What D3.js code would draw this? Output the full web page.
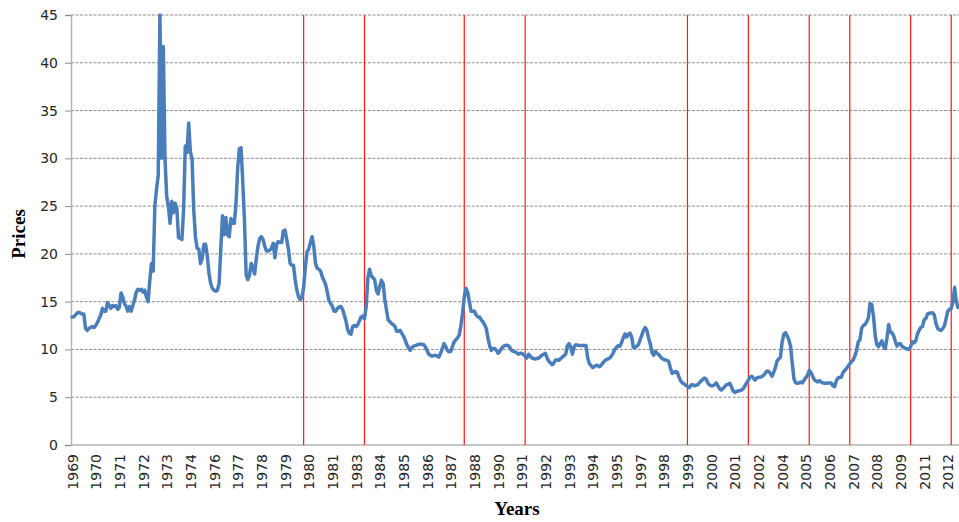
<!DOCTYPE html>
<html>
<head>
<meta charset="utf-8">
<script src="https://cdn.jsdelivr.net/npm/d3@7"></script>
<style>
  body { margin: 0; background: #fff; }
  svg { display: block; }
</style>
</head>
<body>
<svg id="chart" width="959" height="522"></svg>
<script>

// monthly prices, Jan 1969 onwards (one row per year)
var prices = [
	13.4, 13.4, 13.6, 13.8, 13.9, 13.8, 13.7, 13.7, 12.2, 12.0, 12.2, 12.3,
	12.4, 12.3, 12.5, 12.8, 13.2, 13.6, 14.3, 14.0, 14.0, 14.9, 14.6, 14.3,
	14.6, 14.5, 14.6, 14.2, 14.4, 15.9, 15.5, 14.8, 14.5, 14.0, 14.5, 14.0,
	14.6, 15.2, 16.0, 16.3, 16.2, 16.3, 16.0, 16.2, 15.5, 15.0, 17.2, 19.0,
	18.2, 25.0, 26.8, 28.2, 45.0, 30.0, 41.7, 30.0, 26.0, 25.0, 23.2, 25.5,
	24.3, 25.3, 24.8, 21.7, 21.6, 21.5, 24.6, 31.3, 30.6, 33.7, 30.7, 29.9,
	24.6, 21.8, 20.6, 20.5, 19.0, 19.5, 21.0, 21.0, 19.8, 18.0, 16.9, 16.4,
	16.2, 16.1, 16.2, 16.9, 20.5, 24.0, 22.0, 23.8, 22.0, 21.8, 23.7, 23.2,
	23.2, 25.3, 29.0, 31.0, 31.1, 27.5, 23.5, 17.8, 17.3, 17.8, 19.0, 18.5,
	17.9, 19.5, 20.8, 21.6, 21.8, 21.5, 20.8, 20.3, 20.3, 20.4, 20.6, 21.1,
	19.6, 21.0, 21.3, 21.2, 21.2, 22.4, 22.5, 21.5, 20.5, 19.0, 18.8, 18.8,
	17.3, 16.2, 15.5, 15.2, 15.5, 16.5, 18.6, 20.2, 20.5, 21.2, 21.8, 20.8,
	19.0, 18.5, 18.4, 18.2, 17.6, 17.2, 16.8, 16.0, 15.1, 14.8, 14.5, 14.0,
	14.0, 14.3, 14.45, 14.5, 14.2, 13.6, 13.0, 12.1, 11.7, 11.6, 12.4, 12.5,
	12.4, 12.6, 13.0, 13.4, 13.5, 13.2, 14.5, 17.5, 18.4, 17.7, 17.5, 17.3,
	16.2, 15.8, 16.6, 17.25, 16.9, 15.2, 14.1, 13.1, 12.9, 12.7, 12.6, 12.4,
	11.9, 11.9, 12.0, 11.7, 11.4, 11.0, 10.5, 10.2, 9.9, 10.2, 10.35, 10.4,
	10.45, 10.55, 10.55, 10.55, 10.5, 10.25, 9.9, 9.5, 9.4, 9.3, 9.35, 9.4,
	9.3, 9.2, 9.6, 10.1, 10.6, 10.3, 9.9, 9.75, 9.8, 10.3, 10.8, 11.0,
	11.2, 11.5, 12.5, 13.8, 15.5, 16.4, 16.0, 15.0, 14.0, 14.0, 14.0, 13.6,
	13.4, 13.4, 13.1, 12.9, 12.6, 12.2, 11.2, 10.4, 9.9, 10.1, 10.1, 9.9,
	9.6, 9.8, 10.1, 10.3, 10.4, 10.45, 10.4, 10.2, 9.9, 9.8, 9.75, 9.65,
	9.5, 9.6, 9.6, 9.45, 9.3, 9.1, 9.5, 9.3, 9.1, 9.05, 9.0, 9.05,
	9.1, 9.25, 9.4, 9.5, 9.6, 9.1, 8.75, 8.6, 8.4, 8.6, 8.9, 8.9,
	8.85, 9.05, 9.2, 9.35, 9.5, 10.4, 10.6, 10.2, 9.5, 10.3, 10.5, 10.45,
	10.4, 10.4, 10.4, 10.4, 10.4, 9.1, 8.5, 8.3, 8.1, 8.2, 8.35, 8.3,
	8.2, 8.35, 8.6, 8.8, 8.95, 9.0, 9.1, 9.3, 9.6, 10.0, 10.2, 10.4,
	10.35, 10.7, 11.2, 11.6, 11.3, 11.6, 11.7, 11.3, 10.2, 10.2, 10.35, 10.5,
	11.0, 11.5, 12.0, 12.3, 12.0, 11.2, 10.6, 9.7, 9.4, 9.8, 9.6, 9.45,
	9.25, 9.05, 8.95, 8.9, 8.85, 8.7, 8.0, 7.5, 7.6, 7.7, 7.6, 7.1,
	6.7, 6.5, 6.4, 6.25, 6.1, 6.0, 6.25, 6.3, 6.2, 6.25, 6.3, 6.5,
	6.7, 6.85, 7.0, 6.9, 6.5, 6.3, 6.2, 6.2, 6.3, 6.5, 6.2, 5.9,
	5.75, 5.9, 6.1, 6.3, 6.35, 6.45, 6.1, 5.65, 5.5, 5.6, 5.65, 5.7,
	5.75, 5.9, 6.2, 6.5, 6.8, 7.1, 7.2, 7.0, 6.8, 7.0, 7.1, 7.1,
	7.15, 7.3, 7.5, 7.75, 7.7, 7.5, 7.2, 7.6, 8.1, 8.8, 9.0, 9.2,
	10.8, 11.6, 11.75, 11.4, 11.0, 10.3, 8.5, 6.9, 6.5, 6.45, 6.5, 6.6,
	6.5, 6.8, 7.05, 7.3, 7.8, 7.6, 7.2, 6.85, 6.7, 6.6, 6.75, 6.6,
	6.5, 6.45, 6.45, 6.5, 6.5, 6.5, 6.2, 6.1, 6.7, 7.0, 7.1, 7.1,
	7.6, 7.8, 8.0, 8.25, 8.5, 8.7, 8.9, 9.3, 9.9, 10.8, 11.0, 12.2,
	12.5, 12.6, 12.9, 13.3, 14.8, 14.7, 13.5, 11.5, 10.5, 10.3, 10.6, 10.9,
	10.3, 10.1, 11.2, 12.6, 11.8, 11.75, 11.4, 10.8, 10.35, 10.6, 10.6, 10.3,
	10.2, 10.1, 10.05, 10.0, 10.3, 10.8, 10.7, 10.9, 11.6, 12.0, 12.3, 12.4,
	13.1, 13.25, 13.7, 13.8, 13.8, 13.85, 13.6, 12.7, 12.2, 12.05, 12.0, 12.2,
	12.5, 13.25, 14.0, 14.2, 14.3, 15.0, 16.5, 15.0, 14.4
];

// a category label every 14 months
var tickStep = 14;
var tickLabels = ["1969", "1970", "1971", "1972", "1973", "1974", "1976", "1977",
	"1978", "1979", "1980", "1981", "1983", "1984", "1985", "1986", "1987", "1988",
	"1990", "1991", "1992", "1993", "1994", "1995", "1997", "1998", "1999", "2000",
	"2001", "2002", "2004", "2005", "2006", "2007", "2008", "2009", "2011", "2012"];

// month index of each vertical marker line
var eventMonths = [137, 173, 232, 268, 364, 400, 436, 460, 496, 520];

var yTicks = [0, 5, 10, 15, 20, 25, 30, 35, 40, 45];


var svg = d3.select("#chart");

var plotLeft = 71, plotRight = 959, plotTop = 15, plotBottom = 445;

var x = d3.scaleLinear()
	.domain([0, prices.length - 1])
	.range([plotLeft + 1, plotRight - 1]);

var y = d3.scaleLinear()
	.domain([0, 45])
	.range([plotBottom, plotTop]);

// dashed horizontal grid
svg.append("g")
	.selectAll("line")
	.data(yTicks.filter(function(d) { return d > 0; }))
	.enter()
	.append("line")
	.attr("x1", plotLeft)
	.attr("x2", plotRight)
	.attr("y1", function(d) { return y(d); })
	.attr("y2", function(d) { return y(d); })
	.style("stroke", "#8c8c8c")
	.style("stroke-width", 1)
	.style("stroke-dasharray", "3,1.5");

// y axis
var yAxis = svg.append("g")
	.attr("transform", "translate(" + plotLeft + ",0)")
	.call(d3.axisLeft(y).tickValues(yTicks).tickSize(6).tickPadding(7));

yAxis.select(".domain").style("stroke", "#b3b3b3").style("stroke-width", 1.5);
yAxis.selectAll(".tick line").style("stroke", "#8c8c8c");
yAxis.selectAll("text")
	.style("font-family", "DejaVu Sans")
	.style("font-size", "14px")
	.style("fill", "#262626");

// x axis
var xAxis = svg.append("g")
	.attr("transform", "translate(0," + plotBottom + ")")
	.call(d3.axisBottom(x)
		.tickValues(d3.range(tickLabels.length).map(function(k) { return k * tickStep; }))
		.tickFormat(function(d, i) { return tickLabels[i]; })
		.tickSize(0)
		.tickSizeOuter(0));

xAxis.select(".domain")
	.attr("d", "M" + plotLeft + ",0H" + plotRight)
	.style("stroke", "#b3b3b3")
	.style("stroke-width", 1.5);

xAxis.selectAll("text")
	.attr("transform", "translate(0,9) rotate(-90)")
	.attr("x", 0)
	.attr("y", 0)
	.attr("dy", "0.36em")
	.attr("text-anchor", "end")
	.style("font-family", "DejaVu Sans")
	.style("font-size", "14px")
	.style("fill", "#262626");

// red marker lines
svg.append("g")
	.selectAll("line")
	.data(eventMonths)
	.enter()
	.append("line")
	.attr("x1", function(d) { return x(d); })
	.attr("x2", function(d) { return x(d); })
	.attr("y1", plotTop)
	.attr("y2", plotBottom)
	.style("stroke", "#ff1a1a")
	.style("stroke-width", 1.2);

// price line
var line = d3.line()
	.x(function(d, i) { return x(i); })
	.y(function(d) { return y(d); });

svg.append("path")
	.datum(prices)
	.attr("d", line)
	.style("fill", "none")
	.style("stroke", "#4a7ebb")
	.style("stroke-width", 3.5)
	.style("stroke-linejoin", "round")
	.style("stroke-linecap", "round");

// axis titles
svg.append("text")
	.text("Prices")
	.attr("transform", "translate(25,234) rotate(-90)")
	.attr("text-anchor", "middle")
	.style("font-family", "Liberation Serif")
	.style("font-weight", "bold")
	.style("font-size", "19px")
	.style("fill", "#000");

svg.append("text")
	.text("Years")
	.attr("x", 517)
	.attr("y", 515)
	.attr("text-anchor", "middle")
	.style("font-family", "Liberation Serif")
	.style("font-weight", "bold")
	.style("font-size", "19px")
	.style("fill", "#000");

</script>
</body>
</html>
